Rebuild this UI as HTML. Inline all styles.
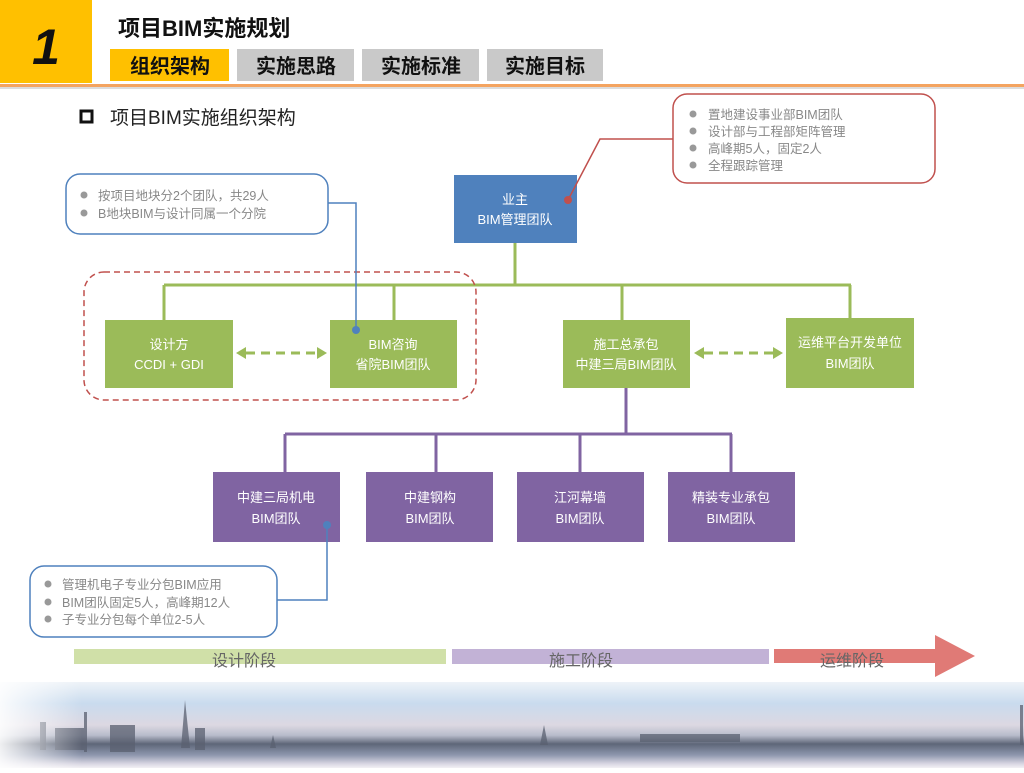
<!DOCTYPE html>
<html><head><meta charset="utf-8"><style>
body{margin:0;width:1024px;height:768px;overflow:hidden;background:#fff;font-family:"Liberation Sans","Noto Sans CJK SC",sans-serif;}
svg text{font-family:"Liberation Sans","Noto Sans CJK SC",sans-serif;}
</style></head><body>
<svg width="1024" height="768" xmlns="http://www.w3.org/2000/svg">
<defs>
<linearGradient id="sky" x1="0" y1="0" x2="0" y2="1">
<stop offset="0" stop-color="#eef3f8"/><stop offset="0.25" stop-color="#c9dbee"/><stop offset="0.5" stop-color="#dcd8e2"/><stop offset="0.62" stop-color="#b8bccb"/><stop offset="0.72" stop-color="#5e6678"/><stop offset="0.85" stop-color="#8e97ae"/><stop offset="0.95" stop-color="#d8d6e2"/><stop offset="1" stop-color="#f2f0f4"/>
</linearGradient>
<linearGradient id="fadeL" x1="0" y1="0" x2="1" y2="0"><stop offset="0" stop-color="#fff" stop-opacity="0.9"/><stop offset="0.08" stop-color="#fff" stop-opacity="0"/></linearGradient>
</defs>
<!-- header -->
<rect x="0" y="0" width="92" height="83" fill="#ffc000"/>
<text x="46" y="64" font-size="50" font-weight="bold" font-style="italic" text-anchor="middle" fill="#111">1</text>
<rect x="0" y="84" width="1024" height="3" fill="#f4a460"/>
<rect x="0" y="87" width="1024" height="2" fill="#ddd"/>
<text x="118" y="36" font-size="22" font-weight="bold" fill="#111">项目BIM实施规划</text>
<rect x="110" y="49" width="119" height="32" fill="#ffc000"/>
<rect x="237" y="49" width="117" height="32" fill="#c9c9c9"/>
<rect x="362" y="49" width="117" height="32" fill="#c9c9c9"/>
<rect x="487" y="49" width="116" height="32" fill="#c9c9c9"/>
<g font-size="20" font-weight="bold" fill="#111" text-anchor="middle">
<text x="170" y="73">组织架构</text><text x="296" y="73">实施思路</text><text x="421" y="73">实施标准</text><text x="545" y="73">实施目标</text></g>
<rect x="81" y="111" width="11" height="11" fill="none" stroke="#111" stroke-width="3"/>
<text x="110" y="124" font-size="19" fill="#222">项目BIM实施组织架构</text>

<!-- callouts -->
<rect x="673" y="94" width="262" height="89" rx="14" fill="#fff" stroke="#c0504d" stroke-width="1.5"/>
<g font-size="12.5" fill="#888"><circle cx="693" cy="114" r="3.5" fill="#999"/><text x="708" y="119">置地建设事业部BIM团队</text>
<circle cx="693" cy="131" r="3.5" fill="#999"/><text x="708" y="136">设计部与工程部矩阵管理</text>
<circle cx="693" cy="148" r="3.5" fill="#999"/><text x="708" y="153">高峰期5人，固定2人</text>
<circle cx="693" cy="165" r="3.5" fill="#999"/><text x="708" y="170">全程跟踪管理</text></g>

<rect x="66" y="174" width="262" height="60" rx="14" fill="#fff" stroke="#4f81bd" stroke-width="1.5"/>
<g font-size="12.5" fill="#888"><circle cx="84" cy="195" r="3.5" fill="#999"/><text x="98" y="200">按项目地块分2个团队，共29人</text>
<circle cx="84" cy="213" r="3.5" fill="#999"/><text x="98" y="218">B地块BIM与设计同属一个分院</text></g>

<rect x="30" y="566" width="247" height="71" rx="14" fill="#fff" stroke="#4f81bd" stroke-width="1.5"/>
<g font-size="12.5" fill="#888"><circle cx="48" cy="584" r="3.5" fill="#999"/><text x="62" y="589">管理机电子专业分包BIM应用</text>
<circle cx="48" cy="602" r="3.5" fill="#999"/><text x="62" y="607">BIM团队固定5人，高峰期12人</text>
<circle cx="48" cy="619" r="3.5" fill="#999"/><text x="62" y="624">子专业分包每个单位2-5人</text></g>

<!-- owner -->
<rect x="454" y="175" width="123" height="68" fill="#4f81bd"/>
<g font-size="13" fill="#fff" text-anchor="middle"><text x="515" y="204">业主</text><text x="515" y="224">BIM管理团队</text></g>
<polyline points="673,139 600,139 568,200" fill="none" stroke="#c0504d" stroke-width="1.5"/>
<circle cx="568" cy="200" r="4" fill="#c0504d"/>

<!-- green lines -->
<g stroke="#9bbb59" stroke-width="3" fill="none">
<line x1="515" y1="243" x2="515" y2="285"/>
<line x1="164" y1="285" x2="851" y2="285"/>
<line x1="164" y1="285" x2="164" y2="320"/><line x1="394" y1="285" x2="394" y2="320"/>
<line x1="622" y1="285" x2="622" y2="320"/><line x1="850" y1="285" x2="850" y2="318"/>
</g>
<rect x="84" y="272" width="392" height="128" rx="20" fill="none" stroke="#c0504d" stroke-width="1.5" stroke-dasharray="6,4"/>
<g fill="#9bbb59">
<rect x="105" y="320" width="128" height="68"/><rect x="330" y="320" width="127" height="68"/>
<rect x="563" y="320" width="127" height="68"/><rect x="786" y="318" width="128" height="70"/></g>
<g font-size="13" fill="#fff" text-anchor="middle">
<text x="169" y="349">设计方</text><text x="169" y="369">CCDI + GDI</text>
<text x="393" y="349">BIM咨询</text><text x="393" y="369">省院BIM团队</text>
<text x="626" y="349">施工总承包</text><text x="626" y="369">中建三局BIM团队</text>
<text x="850" y="347">运维平台开发单位</text><text x="850" y="368">BIM团队</text></g>
<g stroke="#9bbb59" stroke-width="3" stroke-dasharray="9,6"><line x1="246" y1="353" x2="318" y2="353"/><line x1="704" y1="353" x2="774" y2="353"/></g>
<g fill="#9bbb59"><polygon points="236,353 246,347 246,359"/><polygon points="327,353 317,347 317,359"/>
<polygon points="694,353 704,347 704,359"/><polygon points="783,353 773,347 773,359"/></g>

<!-- blue connectors -->
<polyline points="328,203 356,203 356,330" fill="none" stroke="#4f81bd" stroke-width="1.5"/>
<circle cx="356" cy="330" r="4" fill="#4f81bd"/>

<!-- purple -->
<g stroke="#8064a2" stroke-width="3" fill="none">
<line x1="626" y1="388" x2="626" y2="434"/>
<line x1="285" y1="434" x2="732" y2="434"/>
<line x1="285" y1="434" x2="285" y2="472"/><line x1="436" y1="434" x2="436" y2="472"/>
<line x1="580" y1="434" x2="580" y2="472"/><line x1="731" y1="434" x2="731" y2="472"/></g>
<g fill="#8064a2">
<rect x="213" y="472" width="127" height="70"/><rect x="366" y="472" width="127" height="70"/>
<rect x="517" y="472" width="127" height="70"/><rect x="668" y="472" width="127" height="70"/></g>
<g font-size="13" fill="#fff" text-anchor="middle">
<text x="276" y="502">中建三局机电</text><text x="276" y="523">BIM团队</text>
<text x="430" y="502">中建钢构</text><text x="430" y="523">BIM团队</text>
<text x="580" y="502">江河幕墙</text><text x="580" y="523">BIM团队</text>
<text x="731" y="502">精装专业承包</text><text x="731" y="523">BIM团队</text></g>
<polyline points="277,600 327,600 327,525" fill="none" stroke="#4f81bd" stroke-width="1.5"/>
<circle cx="327" cy="525" r="4" fill="#4f81bd"/>

<!-- phases -->
<rect x="74" y="649" width="372" height="15" fill="#d0e0a8"/>
<rect x="452" y="649" width="317" height="15" fill="#c2b2d6"/>
<polygon points="774,649 935,649 935,635 975,656 935,677 935,663 774,663" fill="#e07a76"/>
<g font-size="16" fill="#666" text-anchor="middle"><text x="244" y="666">设计阶段</text><text x="581" y="666">施工阶段</text><text x="852" y="666">运维阶段</text></g>

<!-- skyline -->
<rect x="0" y="682" width="1024" height="86" fill="url(#sky)"/>
<g fill="#5a6070" opacity="0.75">
<rect x="40" y="722" width="6" height="28"/><rect x="84" y="712" width="3" height="40"/>
<rect x="55" y="728" width="30" height="22"/><rect x="110" y="725" width="25" height="27"/>
<polygon points="185,700 181,748 190,748"/><rect x="195" y="728" width="10" height="22"/>
<polygon points="273,735 270,748 276,748"/><polygon points="544,725 540,745 548,745"/>
<rect x="1020" y="705" width="3" height="40"/><rect x="640" y="734" width="100" height="8"/>
</g>
<rect x="0" y="682" width="1024" height="86" fill="url(#fadeL)"/>
</svg>
</body></html>
